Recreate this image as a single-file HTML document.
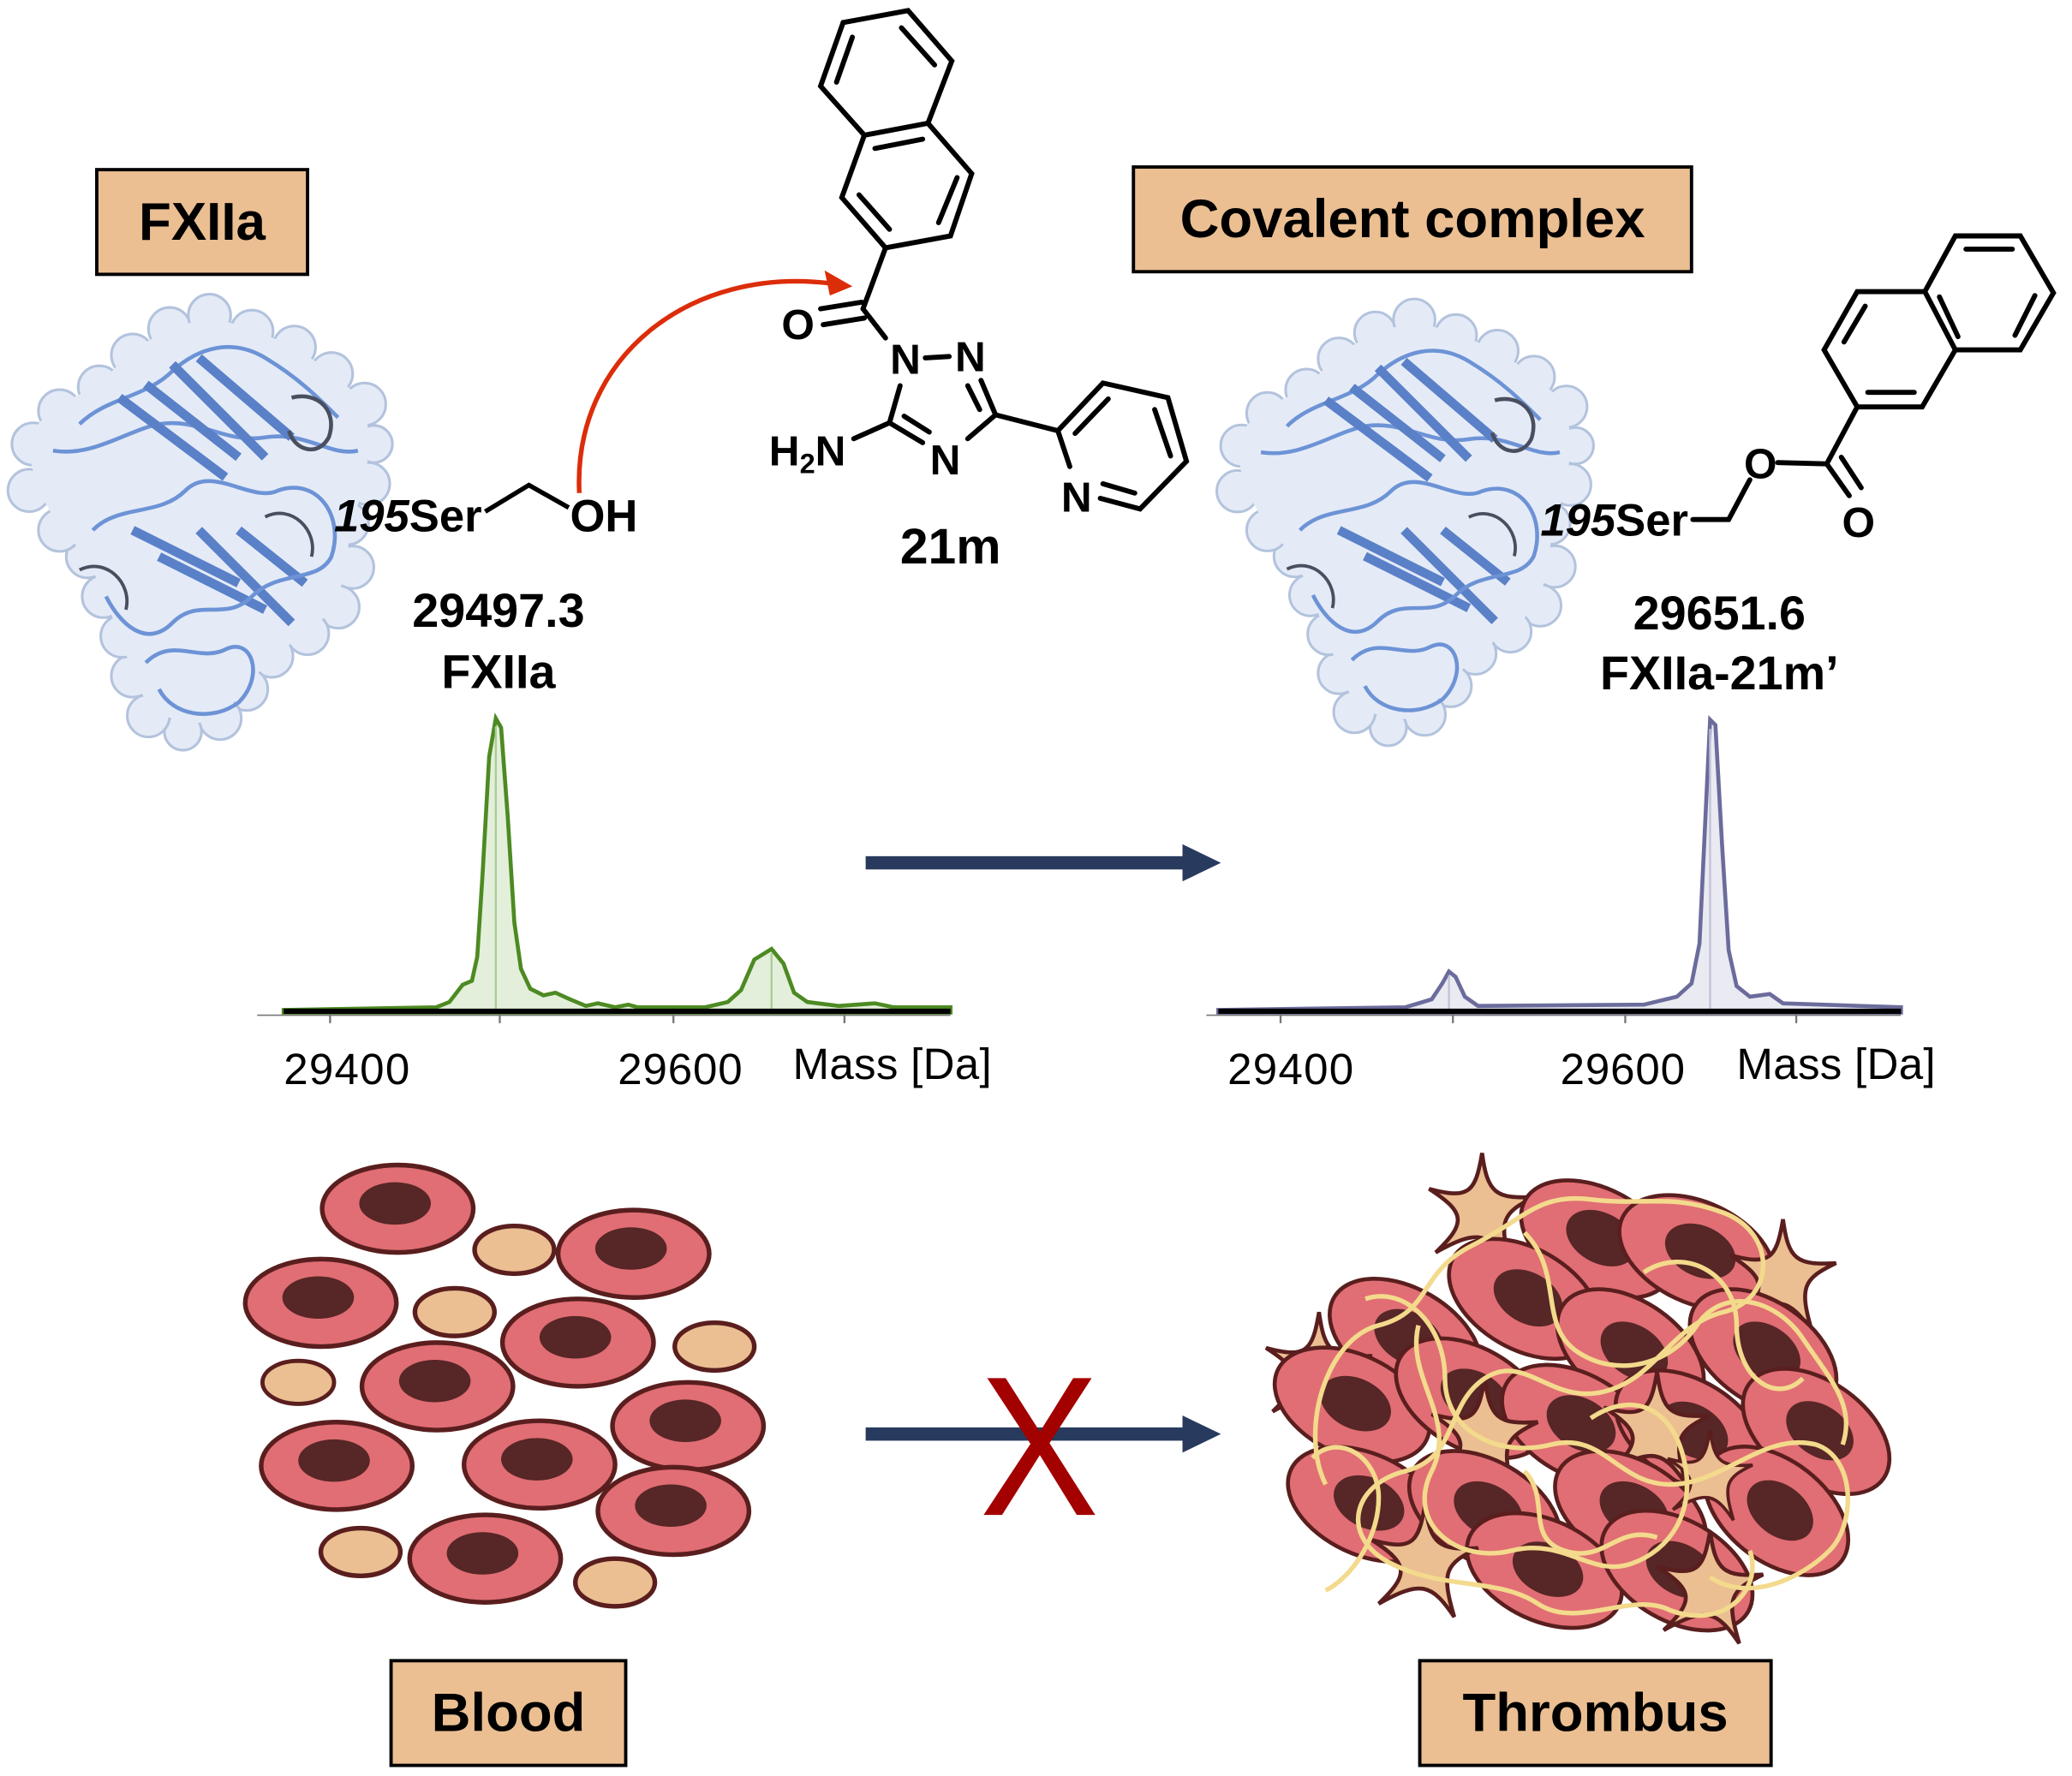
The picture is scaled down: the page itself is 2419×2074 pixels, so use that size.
<!DOCTYPE html>
<html><head><meta charset="utf-8"><style>
html,body{margin:0;padding:0;background:#fff}
svg{display:block}
text{font-family:"Liberation Sans",Arial,sans-serif}
</style></head><body>
<svg xmlns="http://www.w3.org/2000/svg" xmlns:xlink="http://www.w3.org/1999/xlink" width="2419" height="2074" viewBox="0 0 1563 1340" preserveAspectRatio="none">
<defs>
<g id="prot">
<g fill="#e4ebf7" stroke="#b3c3dd" stroke-width="2">
<circle cx="25" cy="335" r="16"/><circle cx="45" cy="310" r="16"/><circle cx="75" cy="292" r="16"/><circle cx="100" cy="268" r="16"/>
<circle cx="128" cy="248" r="16"/><circle cx="158" cy="238" r="16"/><circle cx="190" cy="250" r="16"/><circle cx="222" cy="262" r="16"/>
<circle cx="250" cy="282" r="16"/><circle cx="275" cy="305" r="16"/><circle cx="282" cy="335" r="14"/><circle cx="278" cy="365" r="16"/>
<circle cx="262" cy="395" r="16"/><circle cx="266" cy="428" r="16"/><circle cx="255" cy="458" r="16"/><circle cx="232" cy="478" r="16"/>
<circle cx="205" cy="495" r="16"/><circle cx="186" cy="520" r="16"/><circle cx="166" cy="542" r="16"/><circle cx="138" cy="552" r="14"/>
<circle cx="112" cy="540" r="16"/><circle cx="100" cy="510" r="16"/><circle cx="92" cy="480" r="16"/><circle cx="78" cy="450" r="16"/>
<circle cx="66" cy="420" r="16"/><circle cx="45" cy="400" r="16"/><circle cx="22" cy="370" r="16"/>
</g>
<path d="M22,332 C30,312 50,300 75,292 C90,272 110,250 158,240 C200,248 245,270 275,305 C282,340 275,380 262,395 C266,430 255,460 232,478 C200,495 186,520 166,542 C138,552 112,540 100,510 C92,480 78,450 66,420 C45,400 22,370 22,332 Z" fill="#e4ebf7"/>
<path d="M60,320 C80,300 110,300 130,280 C150,262 175,255 200,270 C225,285 240,300 255,315" fill="none" stroke="#6d93d6" stroke-width="3"/>
<path d="M40,340 C70,345 95,325 120,320 C150,315 170,335 200,330 C230,325 250,345 270,340" fill="none" stroke="#6d93d6" stroke-width="3"/>
<path d="M90,300 L170,360 M110,290 L180,345 M130,275 L200,345 M150,270 L220,330" stroke="#5a80c8" stroke-width="7"/>
<path d="M100,400 L180,440 M120,420 L200,460 M150,400 L220,470 M180,400 L230,440" stroke="#5a80c8" stroke-width="7"/>
<path d="M70,400 C90,380 120,390 140,370 C160,350 190,380 210,370 C240,360 260,390 250,420 C240,440 210,430 190,450 C170,470 150,450 130,470 C110,490 90,470 80,450" fill="none" stroke="#6d93d6" stroke-width="3"/>
<path d="M110,500 C130,480 150,500 170,490 C190,480 200,510 180,530 C160,545 130,540 120,520" fill="none" stroke="#6d93d6" stroke-width="3"/>
<path d="M220,300 C240,295 255,310 248,330 C240,345 222,340 218,325" fill="none" stroke="#4a4f60" stroke-width="3"/>
<path d="M60,430 C80,420 100,440 95,460 M200,390 C220,380 240,400 235,420" fill="none" stroke="#4a4f60" stroke-width="2.5"/>
</g>
<g id="rbc"><ellipse cx="0" cy="0" rx="57" ry="33" fill="#e06e74" stroke="#5a1e1e" stroke-width="3.5"/><ellipse cx="-2" cy="-4" rx="27" ry="16" fill="#572626"/></g>
<g id="plt"><ellipse cx="0" cy="0" rx="30" ry="18" fill="#ebbf92" stroke="#5a1e1e" stroke-width="3.5"/></g>
<g id="trbc"><ellipse cx="0" cy="0" rx="62" ry="38" fill="#e06e74" stroke="#5a1e1e" stroke-width="3"/><ellipse cx="2" cy="-2" rx="28" ry="19" fill="#572626"/></g>
<path id="star" d="M0,-45 C4,-15 10,-10 40,-12 C15,0 12,6 22,40 C5,15 -3,12 -35,30 C-12,8 -12,0 -40,-18 C-10,-10 -5,-15 0,-45 Z" fill="#ebbf92" stroke="#5a1e1e" stroke-width="3"/>
</defs>

<rect x="73" y="128" width="159" height="79" fill="#ebbf92" stroke="#000" stroke-width="2.5"/>
<text x="152.5" y="181" font-size="40" font-weight="bold" text-anchor="middle">FXIIa</text>
<rect x="855" y="126" width="421" height="79" fill="#ebbf92" stroke="#000" stroke-width="2.5"/>
<text x="1065.5" y="179" font-size="41" font-weight="bold" text-anchor="middle">Covalent complex</text>

<use xlink:href="#prot"/>
<use xlink:href="#prot" transform="translate(912,8) scale(0.98)"/>

<text x="252" y="401" font-size="34" font-weight="bold"><tspan font-style="italic">195</tspan>Ser</text>
<polyline points="366,386 399,366 429,383" fill="none" stroke="#000" stroke-width="3.5"/>
<text x="430" y="401" font-size="34" font-weight="bold">OH</text>
<text x="376" y="473" font-size="36" font-weight="bold" text-anchor="middle">29497.3</text>
<text x="376" y="519" font-size="36" font-weight="bold" text-anchor="middle">FXIIa</text>

<path d="M437,372 C432,270 520,200 628,214" fill="none" stroke="#dc2d0a" stroke-width="3.5"/>
<polygon points="643,216 622,204 626,223" fill="#dc2d0a"/>

<g stroke="#000" stroke-width="3.8" fill="none" stroke-linecap="round">
<polygon points="636,17 685,8 718,46 700,93 652,102 619,65"/>
<polyline points="700,93 733,131 717,178 668,187 635,149 652,102"/>
<line x1="643" y1="28" x2="631" y2="62"/><line x1="680" y1="21" x2="705" y2="49"/>
<line x1="660" y1="112" x2="696" y2="105"/><line x1="722" y1="134" x2="708" y2="168"/><line x1="648" y1="147" x2="671" y2="173"/>
<line x1="668" y1="187" x2="651" y2="233"/>
<line x1="619" y1="233" x2="650" y2="228"/><line x1="621" y1="245" x2="652" y2="240"/>
<line x1="651" y1="233" x2="668" y2="255"/>
<line x1="698" y1="270" x2="716" y2="269"/>
<line x1="679" y1="291" x2="671" y2="319"/>
<line x1="671" y1="319" x2="644" y2="331"/>
<line x1="671" y1="319" x2="696" y2="334"/><line x1="682" y1="314" x2="701" y2="326"/>
<line x1="730" y1="331" x2="751" y2="313"/>
<line x1="751" y1="313" x2="740" y2="287"/><line x1="739" y1="309" x2="730" y2="291"/>
<line x1="751" y1="313" x2="798" y2="325"/>
<polyline points="807,352 798,325 832,289 881,300 895,348 860,384 830,376"/>
<line x1="811" y1="327" x2="836" y2="301"/><line x1="871" y1="309" x2="883" y2="344"/><line x1="856" y1="372" x2="832" y2="365"/>
</g>
<g font-size="32" font-weight="bold" text-anchor="middle">
<text x="602" y="256">O</text>
<text x="683" y="282">N</text>
<text x="732" y="280">N</text>
<text x="713" y="358">N</text>
<text x="812" y="386">N</text>
<text x="638" y="351" text-anchor="end">H<tspan font-size="21" dy="6">2</tspan><tspan dy="-6">N</tspan></text>
</g>
<text x="717" y="425" font-size="38" font-weight="bold" text-anchor="middle">21m</text>

<g stroke="#000" stroke-width="3.8" fill="none" stroke-linecap="round">
<polygon points="1376,264 1401,220 1452,220 1475,264 1450,307 1401,307"/>
<polyline points="1452,220 1475,178 1524,178 1549,221 1524,264 1475,264"/>
<line x1="1407" y1="231" x2="1391" y2="258"/><line x1="1409" y1="296" x2="1444" y2="296"/>
<line x1="1483" y1="188" x2="1518" y2="188"/><line x1="1535" y1="223" x2="1520" y2="253"/><line x1="1463" y1="224" x2="1477" y2="254"/>
<line x1="1401" y1="307" x2="1378" y2="350"/>
<line x1="1341" y1="349" x2="1378" y2="350"/>
<line x1="1378" y1="350" x2="1395" y2="374"/><line x1="1389" y1="345" x2="1404" y2="368"/>
<polyline points="1277,392 1304,392 1320,362"/>
</g>
<g font-size="32" font-weight="bold" text-anchor="middle">
<text x="1328" y="361">O</text>
<text x="1402" y="405">O</text>
</g>
<text x="1162" y="404" font-size="34" font-weight="bold"><tspan font-style="italic">195</tspan>Ser</text>
<text x="1297" y="475" font-size="36" font-weight="bold" text-anchor="middle">29651.6</text>
<text x="1297" y="520" font-size="36" font-weight="bold" text-anchor="middle">FXIIa-21m’</text>

<path d="M214,762 L329,760 L339,756 L349,743 L356,740 L360,722 L364,660 L369,571 L374,542 L378,549 L383,616 L388,696 L393,731 L400,746 L410,751 L419,749 L430,754 L442,759 L451,757 L464,760 L474,758 L481,760 L532,760 L549,756 L559,747 L569,724 L582,716 L591,727 L599,749 L609,756 L633,759 L660,757 L674,760 L717,760 L717,764 L214,764 Z" fill="#e3efdb" stroke="#4d8a22" stroke-width="3"/>
<line x1="374" y1="548" x2="374" y2="763" stroke="#a8cc95" stroke-width="1.5"/>
<line x1="582" y1="719" x2="582" y2="763" stroke="#a8cc95" stroke-width="1.5"/>
<line x1="194" y1="766" x2="717" y2="766" stroke="#777" stroke-width="1"/>
<line x1="214" y1="763" x2="717" y2="763" stroke="#000" stroke-width="4"/>
<g stroke="#777" stroke-width="1.5"><line x1="249" y1="765" x2="249" y2="772"/><line x1="377" y1="765" x2="377" y2="772"/><line x1="508" y1="765" x2="508" y2="772"/><line x1="637" y1="765" x2="637" y2="772"/></g>
<g font-size="33"><text x="214" y="818" textLength="95">29400</text><text x="466" y="818" textLength="94">29600</text><text x="598" y="814" textLength="150">Mass [Da]</text></g>

<path d="M919,762 L1060,760 L1080,754 L1088,742 L1093,733 L1098,737 L1105,752 L1115,759 L1240,758 L1265,752 L1276,742 L1282,712 L1286,627 L1290,543 L1294,547 L1299,637 L1304,717 L1310,744 L1320,752 L1335,750 L1345,757 L1434,760 L1434,764 L919,764 Z" fill="#eaeaf2" stroke="#6b6c9c" stroke-width="3"/>
<line x1="1290" y1="550" x2="1290" y2="763" stroke="#c2c2d8" stroke-width="1.5"/>
<line x1="1093" y1="736" x2="1093" y2="763" stroke="#c2c2d8" stroke-width="1.5"/>
<line x1="910" y1="766" x2="1434" y2="766" stroke="#777" stroke-width="1"/>
<line x1="919" y1="763" x2="1434" y2="763" stroke="#000" stroke-width="4"/>
<g stroke="#777" stroke-width="1.5"><line x1="966" y1="765" x2="966" y2="772"/><line x1="1096" y1="765" x2="1096" y2="772"/><line x1="1226" y1="765" x2="1226" y2="772"/><line x1="1355" y1="765" x2="1355" y2="772"/></g>
<g font-size="33"><text x="926" y="818" textLength="95">29400</text><text x="1177" y="818" textLength="94">29600</text><text x="1310" y="814" textLength="150">Mass [Da]</text></g>

<rect x="653" y="646" width="240" height="10" fill="#283a5e"/>
<polygon points="892,637 921,651 892,665" fill="#283a5e"/>
<rect x="653" y="1077" width="240" height="10" fill="#283a5e"/>
<polygon points="892,1068 921,1082 892,1096" fill="#283a5e"/>
<text x="784" y="1143" font-size="150" fill="#a30000" text-anchor="middle" transform="translate(784,0) scale(0.9,1) translate(-784,0)">X</text>

<use xlink:href="#rbc" x="300" y="912"/>
<use xlink:href="#rbc" x="478" y="946"/>
<use xlink:href="#rbc" x="242" y="983"/>
<use xlink:href="#rbc" x="436" y="1013"/>
<use xlink:href="#rbc" x="330" y="1046"/>
<use xlink:href="#rbc" x="519" y="1076"/>
<use xlink:href="#rbc" x="254" y="1106"/>
<use xlink:href="#rbc" x="407" y="1105"/>
<use xlink:href="#rbc" x="508" y="1140"/>
<use xlink:href="#rbc" x="366" y="1176"/>
<use xlink:href="#plt" x="388" y="943"/>
<use xlink:href="#plt" x="343" y="990"/>
<use xlink:href="#plt" x="539" y="1016"/>
<use xlink:href="#plt" transform="translate(225,1043) scale(0.9)"/>
<use xlink:href="#plt" x="272" y="1171"/>
<use xlink:href="#plt" x="464" y="1194"/>

<g>
<use xlink:href="#star" transform="translate(1118,915)"/>
<use xlink:href="#trbc" transform="translate(1205,935) rotate(28)"/>
<use xlink:href="#trbc" transform="translate(1280,945) rotate(25)"/>
<use xlink:href="#trbc" transform="translate(1150,980) rotate(30)"/>
<use xlink:href="#star" transform="translate(1345,965)"/>
<use xlink:href="#trbc" transform="translate(1060,1010) rotate(30)"/>
<use xlink:href="#trbc" transform="translate(1230,1020) rotate(35)"/>
<use xlink:href="#trbc" transform="translate(1330,1020) rotate(35)"/>
<use xlink:href="#star" transform="translate(995,1035)"/>
<use xlink:href="#trbc" transform="translate(1020,1060) rotate(25)"/>
<use xlink:href="#trbc" transform="translate(1110,1055) rotate(30)"/>
<use xlink:href="#trbc" transform="translate(1190,1075) rotate(30)"/>
<use xlink:href="#trbc" transform="translate(1275,1080) rotate(32)"/>
<use xlink:href="#trbc" transform="translate(1370,1080) rotate(35)"/>
<use xlink:href="#star" transform="translate(1120,1085)"/>
<use xlink:href="#star" transform="translate(1250,1080)"/>
<use xlink:href="#trbc" transform="translate(1030,1135) rotate(25)"/>
<use xlink:href="#trbc" transform="translate(1120,1140) rotate(30)"/>
<use xlink:href="#trbc" transform="translate(1230,1140) rotate(30)"/>
<use xlink:href="#trbc" transform="translate(1340,1140) rotate(38)"/>
<use xlink:href="#trbc" transform="translate(1165,1185) rotate(25)"/>
<use xlink:href="#trbc" transform="translate(1265,1185) rotate(30)"/>
<use xlink:href="#star" transform="translate(1075,1180)"/>
<use xlink:href="#star" transform="translate(1290,1200)"/>
<use xlink:href="#star" transform="translate(1290,1115) scale(0.8)"/>
</g>
<g fill="none" stroke="#f3da8c" stroke-width="3.5">
<path d="M1000,1120 C980,1080 1000,1010 1040,1000 C1080,990 1070,960 1110,940 C1150,920 1160,900 1200,905 C1240,910 1260,900 1300,915 C1340,930 1340,980 1300,990 C1260,1000 1250,1040 1210,1050 C1170,1060 1150,1020 1120,1040 C1090,1060 1100,1100 1060,1110 C1020,1120 1010,1160 1050,1180 C1090,1200 1130,1190 1160,1210 C1190,1230 1230,1200 1260,1215 C1300,1230 1330,1200 1320,1170"/>
<path d="M1030,980 C1060,970 1090,1000 1090,1040 C1090,1080 1130,1100 1170,1090 C1210,1080 1220,1120 1260,1120 C1300,1120 1330,1080 1370,1090 C1400,1100 1400,1150 1380,1170 C1360,1190 1320,1210 1290,1190"/>
<path d="M1150,930 C1180,960 1160,1000 1190,1020 C1220,1040 1260,1030 1280,1000 C1300,970 1340,980 1360,1010 C1380,1040 1400,1060 1390,1090"/>
<path d="M1070,1000 C1060,1040 1100,1070 1080,1110 C1060,1150 1100,1180 1140,1170 C1180,1160 1200,1190 1230,1180 C1260,1170 1280,1140 1270,1100 C1260,1060 1230,1050 1200,1070"/>
<path d="M990,1100 C1010,1080 1040,1100 1040,1130 C1040,1160 1020,1190 1000,1200"/>
<path d="M1240,960 C1270,940 1310,960 1310,1000 C1310,1040 1340,1060 1360,1040 M1150,1110 C1170,1130 1150,1160 1180,1170 C1210,1180 1220,1150 1250,1160"/>
</g>

<rect x="295" y="1253" width="177" height="79" fill="#ebbf92" stroke="#000" stroke-width="2.5"/>
<text x="383.5" y="1306" font-size="41" font-weight="bold" text-anchor="middle">Blood</text>
<rect x="1071" y="1253" width="265" height="79" fill="#ebbf92" stroke="#000" stroke-width="2.5"/>
<text x="1203.5" y="1306" font-size="41" font-weight="bold" text-anchor="middle">Thrombus</text>
</svg>
</body></html>
